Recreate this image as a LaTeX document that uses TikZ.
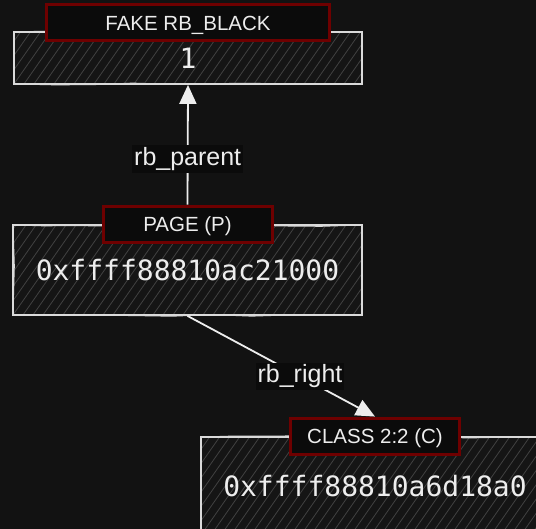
\documentclass[tikz,border=0pt]{standalone}
\usepackage{fontspec}
\setmainfont{Liberation Sans}
\newfontfamily\codefont{DejaVu Sans Mono}
\usetikzlibrary{positioning,arrows.meta,decorations.pathmorphing}

\definecolor{canvas}{HTML}{121212}
\definecolor{boxfill}{HTML}{151515}
\definecolor{hatchgray}{HTML}{414141}
\definecolor{sketch}{HTML}{DADADA}
\definecolor{tagred}{HTML}{6E0000}
\definecolor{tagfill}{HTML}{0B0B0B}
\definecolor{ink}{HTML}{EDEDED}

\tikzset{
  membox/.style={draw=sketch, line width=1.8pt, fill=boxfill, text=ink, inner sep=0pt,
    font=\codefont\fontsize{28}{32}\selectfont,
    path picture={\foreach \k in {-8,...,36}
      \draw[draw=hatchgray, line width=0.8pt] ([xshift=\k*10pt]path picture bounding box.south west) -- ++(55:160pt);},
    postaction={draw=sketch, line width=0.9pt, decorate,
      decoration={random steps, segment length=40pt, amplitude=1.4pt}}},
  tagbox/.style={draw=tagred, line width=3pt, fill=tagfill, text=ink,
    minimum height=36pt, inner sep=0pt, text height=15pt, text depth=0pt,
    font=\fontsize{20.5}{24}\selectfont},
  link/.style={draw=ink, line width=1.8pt, -{Triangle[length=19pt,width=17pt]}},
  linklabel/.style={fill=tagfill, text=ink, inner sep=2pt, font=\fontsize{25}{28}\selectfont}
}

\begin{document}
\begin{tikzpicture}[x=1pt,y=-1pt]
  \fill[canvas] (0,0) rectangle (536,529);
  \useasboundingbox (0,0) rectangle (536,529);

  % memory boxes
  \node[membox, minimum width=348pt, minimum height=52pt] (black) at (188,58) {1};
  \node[membox, minimum width=349pt, minimum height=90pt] (page) at (187.5,270) {0xffff88810ac21000};
  \node[membox, minimum width=348pt, minimum height=98pt] (class) at (375,486) {0xffff88810a6d18a0};

  % titles
  \node[tagbox, minimum width=283pt, above=-11pt of black.north] (blacktag) {FAKE RB\_BLACK};
  \node[tagbox, minimum width=169pt] (pagetag) at (page.north) {PAGE (P)};
  \node[tagbox, minimum width=169pt] (classtag) at (class.north) {CLASS 2:2 (C)};

  % pointers
  \draw[link] (pagetag.north) -- (black.south) node[linklabel, pos=0.38] (parentlbl) {rb\_parent};
  \draw[link] (page.south) -- (classtag.north) node[linklabel, pos=0.6] (rightlbl) {rb\_right};
\end{tikzpicture}
\end{document}
